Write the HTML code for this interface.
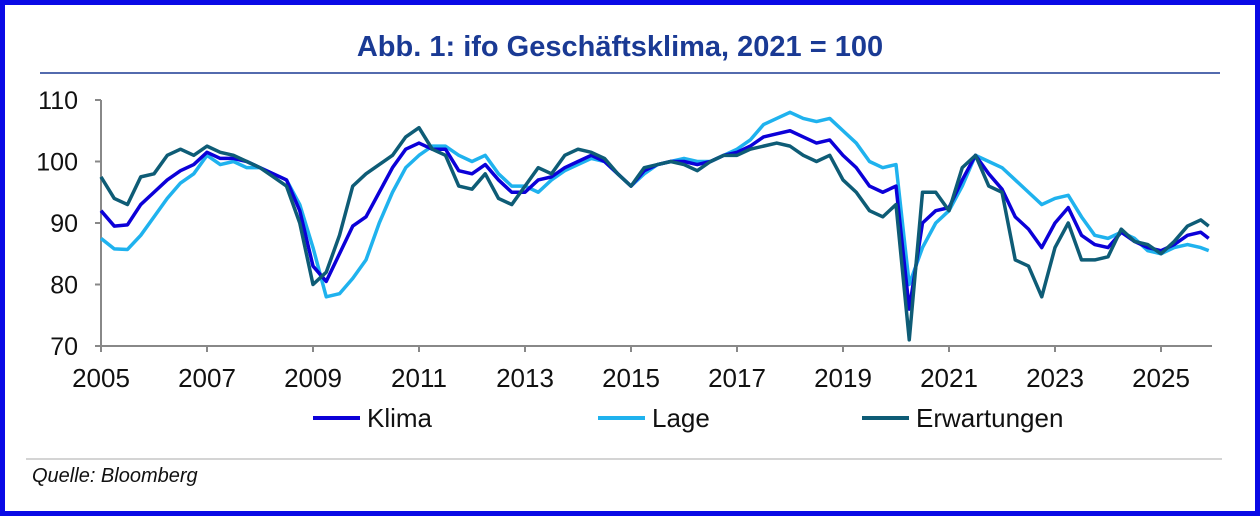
<!DOCTYPE html>
<html><head><meta charset="utf-8"><style>
body{margin:0;background:#fff}
#frame{position:absolute;left:0;top:0;width:1250px;height:506px;border:5px solid #0a0ae6;background:#fff}
</style></head><body>
<div id="frame"></div>
<svg id="chart" width="1260" height="516" style="position:absolute;left:0;top:0" font-family="Liberation Sans, Arial, sans-serif">
<text x="620" y="56" text-anchor="middle" font-size="29" font-weight="bold" fill="#1a3a94">Abb. 1: ifo Geschäftsklima, 2021 = 100</text>
<line x1="40" y1="73" x2="1220" y2="73" stroke="#1a3a94" stroke-width="1.5"/>
<line x1="26" y1="459" x2="1222" y2="459" stroke="#aaa" stroke-width="1"/>
<text x="32" y="482" font-size="20" font-style="italic" fill="#111">Quelle: Bloomberg</text>
<g id="axes"></g><g id="series"></g><g id="legend"></g>
</svg>
<script>
const dates=[2005,2005.25,2005.5,2005.75,2006,2006.25,2006.5,2006.75,2007,2007.25,2007.5,2007.75,2008,2008.25,2008.5,2008.75,2009,2009.25,2009.5,2009.75,2010,2010.25,2010.5,2010.75,2011,2011.25,2011.5,2011.75,2012,2012.25,2012.5,2012.75,2013,2013.25,2013.5,2013.75,2014,2014.25,2014.5,2014.75,2015,2015.25,2015.5,2015.75,2016,2016.25,2016.5,2016.75,2017,2017.25,2017.5,2017.75,2018,2018.25,2018.5,2018.75,2019,2019.25,2019.5,2019.75,2020,2020.25,2020.5,2020.75,2021,2021.25,2021.5,2021.75,2022,2022.25,2022.5,2022.75,2023,2023.25,2023.5,2023.75,2024,2024.25,2024.5,2024.75,2025,2025.25,2025.5,2025.75,2025.9];
const klima=[92,89.5,89.7,93,95,97,98.5,99.5,101.5,100.5,100.5,100,99,98,97,92,83,80.5,85,89.5,91,95,99,102,103,102,102,98.5,98,99.5,97,95,95,97,97.5,99,100,101,100,98,96,98.5,99.5,100,100,99.5,100,101,101.5,102.5,104,104.5,105,104,103,103.5,101,99,96,95,96,76,90,92,92.5,97,101,98,95.5,91,89,86,90,92.5,88,86.5,86,88.5,87,86,85.5,86.5,88,88.5,87.5];
const lage=[87.5,85.8,85.7,88,91,94,96.5,98,101,99.5,100,99,99,98,97,93,86,78,78.5,81,84,90,95,99,101,102.5,102.5,101,100,101,98,96,96,95,97,98.5,99.5,100.5,100,98,96,98,99.5,100,100.5,100,100,101,102,103.5,106,107,108,107,106.5,107,105,103,100,99,99.5,80,86,90,92,96,101,100,99,97,95,93,94,94.5,91,88,87.5,88.5,87.5,85.5,85,86,86.5,86,85.5];
const erw=[97.5,94,93,97.5,98,101,102,101,102.5,101.5,101,100,99,97.5,96,90,80,82,88,96,98,99.5,101,104,105.5,102,101,96,95.5,98,94,93,96,99,98,101,102,101.5,100.5,98,96,99,99.5,100,99.5,98.5,100,101,101,102,102.5,103,102.5,101,100,101,97,95,92,91,93,71,95,95,92,99,101,96,95,84,83,78,86,90,84,84,84.5,89,87,86.5,85,87,89.5,90.5,89.5];
const yTicks=[70,80,90,100,110];
const xTicks=[2005,2007,2009,2011,2013,2015,2017,2019,2021,2023,2025];
const NS='http://www.w3.org/2000/svg';
const X=v=>101+(v-2005)*53, Y=v=>346-(v-70)*6.15;
function mk(tag,attrs,parent){const e=document.createElementNS(NS,tag);for(const k in attrs)e.setAttribute(k,attrs[k]);parent.appendChild(e);return e;}
const axes=document.getElementById('axes');
let a=mk('line',{x1:101,y1:Y(110),x2:101,y2:346,stroke:'#888','stroke-width':2},axes);


a=mk('line',{x1:101,y1:346,x2:1212,y2:346,stroke:'#888','stroke-width':2},axes);


yTicks.forEach(t=>{
 const l=mk('line',{x1:95,y1:Y(t),x2:101,y2:Y(t),stroke:'#888','stroke-width':2},axes);
 
 
 const tx=mk('text',{x:78,y:Y(t)+9,'text-anchor':'end','font-size':25,fill:'#111'},axes);
 tx.textContent=t;
 
 
});
xTicks.forEach(t=>{
 const l=mk('line',{x1:X(t),y1:346,x2:X(t),y2:352,stroke:'#888','stroke-width':2},axes);
 
 
 const tx=mk('text',{x:X(t),y:387,'text-anchor':'middle','font-size':26,fill:'#111'},axes);
 tx.textContent=t;
 
 
});
const ser=document.getElementById('series');
const defs=[['lage',lage,'#1fb2ee','line-lage'],['klima',klima,'#0c00d8','line-klima'],['erw',erw,'#0e5c76','line-erwartungen']];
defs.forEach(d=>{
 const p=mk('polyline',{points:d[1].map((v,i)=>X(dates[i])+','+Y(v)).join(' '),fill:'none',stroke:d[2],'stroke-width':3.5,'stroke-linejoin':'round'},ser);
 
 
});
const leg=document.getElementById('legend');
[['Klima','#0c00d8',313],['Lage','#1fb2ee',598],['Erwartungen','#0e5c76',862]].forEach(e=>{
 const g=mk('g',{},leg);
 
 
 mk('line',{x1:e[2],y1:418,x2:e[2]+47,y2:418,stroke:e[1],'stroke-width':4},g);
 const t=mk('text',{x:e[2]+54,y:427,'font-size':26,fill:'#111'},g);
 t.textContent=e[0];
});
</script>
</body></html>
